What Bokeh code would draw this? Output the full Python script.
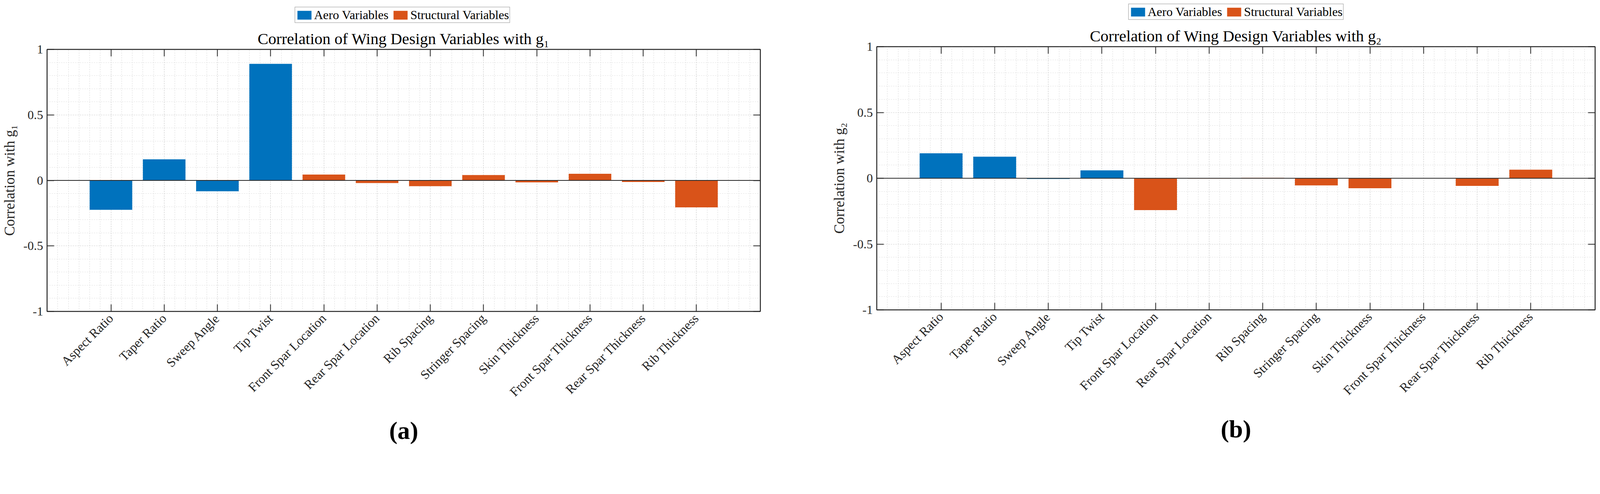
import numpy as np
from bokeh.embed import file_html
from bokeh.resources import INLINE
from bokeh.layouts import row, column, Spacer
from bokeh.plotting import figure
from bokeh.models import (ColumnDataSource, FixedTicker, SingleIntervalTicker, LinearAxis,
                          PrintfTickFormatter, CustomJSTickFormatter, Span, Title, Legend,
                          LegendItem, Range1d)

# Data
variables = ['Aspect Ratio', 'Taper Ratio', 'Sweep Angle', 'Tip Twist',
             'Front Spar Location', 'Rear Spar Location', 'Rib Spacing', 'Stringer Spacing',
             'Skin Thickness', 'Front Spar Thickness', 'Rear Spar Thickness', 'Rib Thickness']
n_aero = 4  # first four are aerodynamic, rest structural
corr_g1 = [-0.224, 0.161, -0.083, 0.890, 0.045, -0.020, -0.044, 0.041, -0.015, 0.051, -0.012, -0.206]
corr_g2 = [0.190, 0.164, -0.005, 0.060, -0.242, -0.002, 0.003, -0.054, -0.076, -0.001, -0.058, 0.065]

BLUE = '#0072BD'
ORANGE = '#D95319'
AXC = '#262626'
FONT = 'Liberation Serif'

# the screenshot comes out ~1.065x larger than css px, so work in css px
S = 1 / 1.065
TOTAL_H = round(1265 * S) - 16
LEG_PAD = 10  # spare room around the legend box inside its own little figure


def css(v):
    return round(v * S) - 8


def split(values):
    xs = list(range(1, len(variables) + 1))
    aero = ColumnDataSource(dict(x=xs[:n_aero], top=values[:n_aero]))
    struct = ColumnDataSource(dict(x=xs[n_aero:], top=values[n_aero:]))
    return aero, struct


def make_legend(values, width, height):
    lf = figure(width=width, height=height, output_backend="svg", toolbar_location=None,
                x_axis_location=None, y_axis_location=None, min_border=0,
                x_range=Range1d(-0.2, 13.2), y_range=Range1d(-1, 1))
    lf.outline_line_color = None
    lf.grid.visible = False
    aero, struct = split(values)
    ra = lf.vbar(x='x', top='top', width=0.8, source=aero, fill_color=BLUE, line_color=None, visible=False)
    rs = lf.vbar(x='x', top='top', width=0.8, source=struct, fill_color=ORANGE, line_color=None, visible=False)
    legend = Legend(items=[LegendItem(label='Aero Variables', renderers=[ra]),
                           LegendItem(label='Structural Variables', renderers=[rs])],
                    location='center', orientation='horizontal')
    legend.inactive_fill_alpha = 0
    legend.padding = 1
    legend.margin = 0
    legend.spacing = 8
    legend.label_standoff = 3
    legend.glyph_width = 45
    legend.glyph_height = 28
    legend.label_height = 30
    legend.label_text_font = FONT
    legend.label_text_font_size = '32px'
    legend.label_text_color = 'black'
    legend.label_text_baseline = 'middle'
    legend.border_line_color = AXC
    legend.border_line_width = 1.5
    lf.add_layout(legend, 'center')
    return lf


def make_panel(values, sub, tag, tag_dx, width, height, mb):
    p = figure(width=width, height=height, output_backend="svg", toolbar_location=None, title=None,
               x_range=Range1d(-0.2, 13.2), y_range=Range1d(-1, 1),
               min_border_left=mb[0], min_border_right=mb[1], min_border_top=mb[2], min_border_bottom=mb[3])
    p.outline_line_color = AXC
    p.outline_line_width = 2

    aero, struct = split(values)
    p.vbar(x='x', top='top', bottom=0, width=0.8, source=aero, fill_color=BLUE, line_color=None)
    p.vbar(x='x', top='top', bottom=0, width=0.8, source=struct, fill_color=ORANGE, line_color=None)
    p.add_layout(Span(location=0, dimension='width', line_color=AXC, line_width=2))

    xs = list(range(1, len(variables) + 1))
    xticker = FixedTicker(ticks=xs, minor_ticks=list(np.round(np.arange(-0.2, 13.21, 0.2), 2)))
    yticker = SingleIntervalTicker(interval=0.5, num_minor_ticks=5)
    blank = CustomJSTickFormatter(code="return ''")

    bottom = p.below[0]
    bottom.ticker = xticker
    bottom.major_label_overrides = {i + 1: name for i, name in enumerate(variables)}
    bottom.major_label_orientation = np.pi / 4
    bottom.major_label_text_font_size = '33px'
    bottom.major_label_standoff = 12

    left = p.left[0]
    left.ticker = yticker
    left.formatter = PrintfTickFormatter(format='%g')
    left.major_label_text_font_size = '32px'
    left.major_label_standoff = 10
    left.axis_label = 'Correlation with g' + sub
    left.axis_label_text_font = FONT
    left.axis_label_text_font_style = 'normal'
    left.axis_label_text_font_size = '37px'
    left.axis_label_text_color = AXC
    left.axis_label_standoff = 12

    top_ax = LinearAxis(ticker=xticker, formatter=blank, major_label_standoff=0)
    right_ax = LinearAxis(ticker=yticker, formatter=blank, major_label_standoff=0)
    p.add_layout(top_ax, 'above')
    p.add_layout(right_ax, 'right')

    for ax in (bottom, left, top_ax, right_ax):
        ax.axis_line_color = AXC
        ax.axis_line_width = 2
        ax.major_tick_line_color = AXC
        ax.major_tick_line_width = 2
        ax.major_tick_in = 18
        ax.major_tick_out = 0
        ax.minor_tick_in = 0
        ax.minor_tick_out = 0
        ax.major_label_text_font = FONT
        ax.major_label_text_color = AXC

    p.xgrid.ticker = xticker
    p.ygrid.ticker = yticker
    for g in (p.xgrid, p.ygrid):
        g.grid_line_color = '#cccccc'
        g.grid_line_dash = '3 3'
        g.grid_line_width = 1.2
        g.minor_grid_line_color = '#dcdcdc'
        g.minor_grid_line_dash = '3 3'
        g.minor_grid_line_width = 1.2

    p.add_layout(Title(text='Correlation of Wing Design Variables with g' + sub, align='center',
                       text_font=FONT, text_font_style='normal', text_font_size='41px',
                       text_color='black', standoff=10), 'above')
    p.add_layout(Title(text=tag, align='center', offset=tag_dx, text_font=FONT, text_font_style='bold',
                       text_font_size='64px', text_color='black', standoff=55), 'below')
    return p


def build(values, sub, tag, x0, x1, fx0, fx1, fy0, fy1, ly0, ly1, tag_x):
    # geometry from the reference picture (screenshot px), turned into css px
    col_x = 0 if x0 == 0 else css(x0)
    width = (css(x1) if x1 < 4373 else round(4373 * S) - 16) - col_x
    ml = css(fx0) - col_x
    fw = css(fx1) - css(fx0)
    top_sp = css(ly0) - LEG_PAD
    leg_h = css(ly1) - css(ly0) + 2 * LEG_PAD
    main_top = top_sp + leg_h
    mt = css(fy0) - main_top
    fh = css(fy1) - css(fy0)
    main_h = TOTAL_H - main_top
    mb = main_h - mt - fh
    mr = width - ml - fw
    tag_dx = round((tag_x - (fx0 + fx1) / 2) * S)
    leg = make_legend(values, fw, leg_h)
    main = make_panel(values, sub, tag, tag_dx, width, main_h, (ml, mr, mt, mb))
    return column(Spacer(width=width, height=max(top_sp, 0)), row(Spacer(width=ml, height=leg_h), leg), main)


left_col = build(corr_g1, '\u2081', '(a)', 0, 2200, 129, 2081, 143, 857, 29, 69, 1039)
right_col = build(corr_g2, '\u2082', '(b)', 2200, 4373, 2398, 4357, 135, 853, 21, 60, 3307)

layout = row(left_col, right_col)
open("out.html", "w").write(file_html(layout, INLINE))
